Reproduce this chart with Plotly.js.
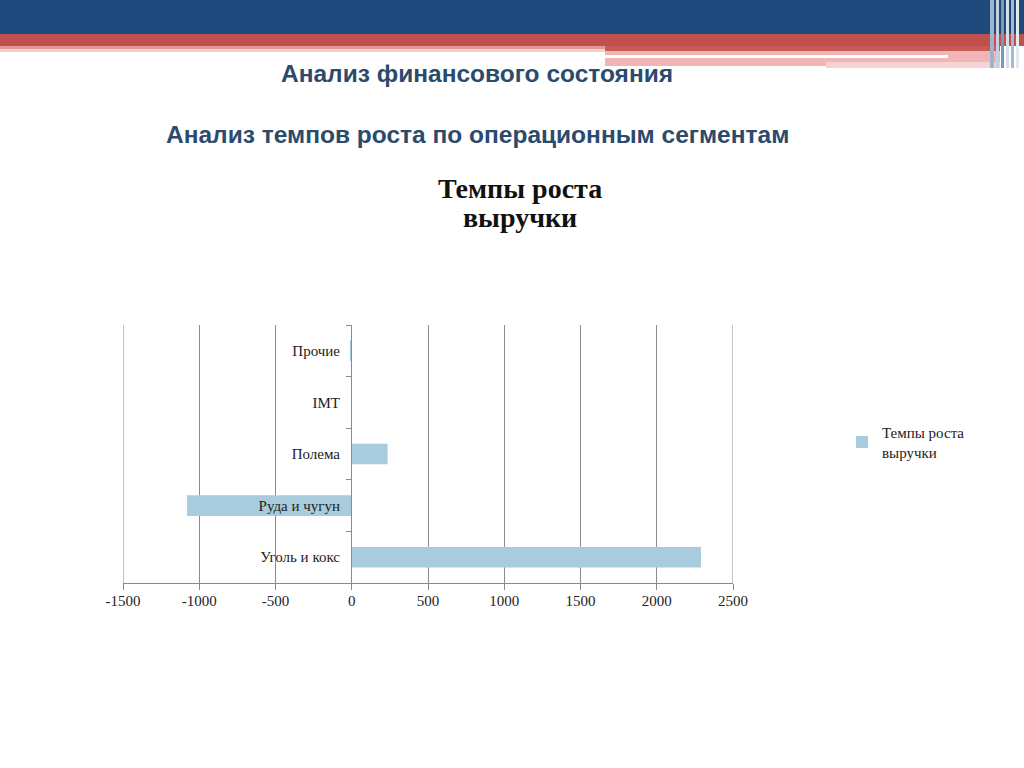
<!DOCTYPE html>
<html>
<head>
<meta charset="utf-8">
<script src="https://cdn.plot.ly/plotly-3.0.1.min.js"></script>
<style>html,body{margin:0;padding:0;background:#fff;}#chart{width:1024px;height:768px;}</style>
</head>
<body>
<div id="chart"></div>
<script>
const categories = ['Уголь и кокс', 'Руда и чугун', 'Полема', 'IMT', 'Прочие'];
const growthValues = [2290, -1080, 235, 0, -12];
const seriesName = 'Темпы роста<br>выручки';
const xTickValues = [-1500, -1000, -500, 0, 500, 1000, 1500, 2000, 2500];
const chartTitleLines = ['Темпы роста', 'выручки'];
const header1 = 'Анализ финансового состояния';
const header2 = 'Анализ темпов роста по операционным сегментам';

// plot area in pixels: x 123..733, y 325..583
const L = 123, R = 733, T = 325, B = 583;
const px = x => (x - L) / (R - L);
const py = y => (B - y) / (B - T);
function rect(x0, y0, x1, y1, color) {
  return {type: 'rect', xref: 'paper', yref: 'paper', x0: px(x0), x1: px(x1), y0: py(y0), y1: py(y1),
          fillcolor: color, line: {width: 0}, layer: 'below'};
}
const shapes = [
  rect(0, 0, 1024, 34, '#1f497d'),
  rect(0, 34, 1024, 46, '#c0504d'),
  rect(0, 46, 605, 49, '#e39896'),
  rect(0, 49, 605, 52, '#f3cfce'),
  rect(605, 46, 1000, 51, '#c85a57'),
  rect(605, 51, 1000, 66, '#f0b6b5'),
  rect(605, 55, 948, 58, '#ffffff'),
  rect(826, 62, 1000, 68, '#f6d3d2'),
  rect(990, 0, 994, 68, '#9fb3cc'),
  rect(996, 0, 999, 68, '#c4d0df'),
  rect(1001, 0, 1004, 68, '#7f97b6'),
  rect(1006, 0, 1009, 68, '#d6dee8'),
  rect(1011, 0, 1014, 68, '#a7b9cf'),
  rect(1016, 0, 1019, 68, '#e3e9f0')
];
// gridlines at the two range ends (Plotly drops grid lines sitting on the plot edge)
[xTickValues[0], xTickValues[xTickValues.length - 1]].forEach(v => {
  shapes.push({type: 'line', xref: 'x', yref: 'paper', x0: v, x1: v, y0: 0, y1: 1,
               line: {color: '#8a8a8a', width: 1}, layer: 'below'});
});

const trace = {
  type: 'bar',
  orientation: 'h',
  y: categories,
  x: growthValues,
  name: seriesName,
  width: 0.4,
  marker: {color: '#a8ccdd', line: {width: 0}},
  showlegend: true
};

const serif = 'Liberation Serif, serif';
const sans = 'Liberation Sans, sans-serif';

const layout = {
  width: 1024, height: 768,
  margin: {l: L, r: 1024 - R, t: T, b: 768 - B},
  paper_bgcolor: '#ffffff',
  plot_bgcolor: 'rgba(0,0,0,0)',
  font: {family: serif, size: 15, color: '#222'},
  xaxis: {
    range: [-1500, 2500],
    tickvals: xTickValues,
    ticktext: xTickValues.map(String),
    showgrid: true, gridcolor: '#8a8a8a', gridwidth: 1,
    zeroline: false,
    showline: true, linecolor: '#8a8a8a', linewidth: 1,
    ticks: 'outside', ticklen: 6, tickcolor: '#8a8a8a',
    ticklabelstandoff: -2,
    tickfont: {family: serif, size: 15, color: '#222'},
    fixedrange: true
  },
  yaxis: {
    type: 'category',
    categoryorder: 'array', categoryarray: categories,
    anchor: 'free', position: px(351),
    showline: true, linecolor: '#8a8a8a', linewidth: 1,
    ticks: 'outside', ticklen: 5, tickcolor: '#8a8a8a', tickson: 'boundaries',
    ticklabelstandoff: 8,
    showgrid: false, zeroline: false,
    tickfont: {family: serif, size: 15, color: '#222'},
    range: [-0.5, 4.5],
    fixedrange: true
  },
  legend: {
    x: px(842), y: py(416), xanchor: 'left', yanchor: 'top',
    font: {family: serif, size: 15, color: '#222'},
    bgcolor: 'rgba(0,0,0,0)', itemwidth: 30
  },
  shapes: shapes,
  annotations: [
    {text: header1, xref: 'paper', yref: 'paper', x: px(477), y: py(73), showarrow: false,
     xanchor: 'center', yanchor: 'middle',
     font: {family: sans, size: 24.5, color: '#2c4a6c', weight: 'bold'}},
    {text: header2, xref: 'paper', yref: 'paper', x: px(477), y: py(134), showarrow: false,
     xanchor: 'center', yanchor: 'middle',
     font: {family: sans, size: 24.5, color: '#2c4a6c', weight: 'bold'}},
    {text: chartTitleLines[0], xref: 'paper', yref: 'paper', x: px(520), y: py(188), showarrow: false,
     xanchor: 'center', yanchor: 'middle',
     font: {family: serif, size: 28, color: '#111', weight: 'bold'}},
    {text: chartTitleLines[1], xref: 'paper', yref: 'paper', x: px(520), y: py(217), showarrow: false,
     xanchor: 'center', yanchor: 'middle',
     font: {family: serif, size: 28, color: '#111', weight: 'bold'}}
  ]
};

Plotly.newPlot('chart', [trace], layout, {displayModeBar: false, staticPlot: true});
</script>
</body>
</html>
